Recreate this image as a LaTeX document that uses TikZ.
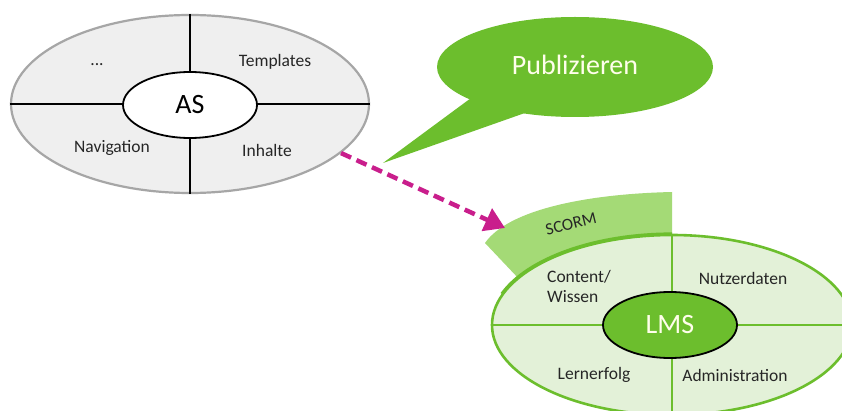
\documentclass[tikz,border=0pt]{standalone}
\usepackage{fontspec}
\setmainfont{Carlito}
\usetikzlibrary{shapes.geometric,arrows.meta}
\definecolor{asgray}{HTML}{EFEFEF}
\definecolor{asborder}{HTML}{A6A6A6}
\definecolor{pubgreen}{HTML}{6CBE2D}
\definecolor{lmspale}{HTML}{E3F1D8}
\definecolor{lmsline}{HTML}{6CBE2D}
\definecolor{scormgreen}{HTML}{A4DA76}
\definecolor{magent}{HTML}{C91E8C}
\definecolor{txt}{HTML}{262626}
\tikzset{
  outerell/.style={ellipse, inner sep=0pt, minimum width=358pt, minimum height=178pt},
  innerell/.style={ellipse, inner sep=0pt, minimum width=134pt, minimum height=66pt, draw=black, line width=1.8pt},
  lbl/.style={font=\fontsize{17.5}{20}\selectfont, text=txt},
  big/.style={font=\fontsize{28}{32}\selectfont},
}
\begin{document}
\begin{tikzpicture}[x=1pt,y=1pt]
\useasboundingbox (0,0) rectangle (842,410);
\clip (0,0) rectangle (842,410);
\fill[white] (0,0) rectangle (842,410);

% ---- AS ellipse
\node[outerell, fill=asgray, draw=asborder, line width=2.2pt] (as) at (190,306) {};
\draw[black, line width=1.8pt] (as.north) -- (as.south);
\draw[black, line width=1.8pt] (as.west) -- (as.east);
\node[innerell, fill=white, big, text=black] (asin) at (190,305) {AS};
\node[lbl] (dots) at (97,345) {...};
\node[lbl] (tmpl) at (275,348) {Templates};
\node[lbl] (nav) at (112,262) {Navigation};
\node[lbl] (inh) at (267,260) {Inhalte};

% ---- Publizieren callout
\coordinate (tailtip) at (383,247);
\node[ellipse, inner sep=0pt, minimum width=276pt, minimum height=100pt, fill=pubgreen] (pub) at (575,343) {};
\fill[pubgreen] (pub.197) -- (tailtip) -- (pub.222) -- (pub.center) -- cycle;
\node[big, text=white!92!yellow] (pubtxt) at (575,345) {Publizieren};

% ---- LMS ellipse
\node[outerell, minimum width=360pt, minimum height=180pt, fill=lmspale, draw=lmsline, line width=2.6pt] (lms) at (672,85) {};
% SCORM band
\fill[scormgreen] (672,218) -- (672,176.3) arc[start angle=90, end angle=148.5, x radius=181.3, y radius=91.3]
  -- (485,167) .. controls (508,200) and (585,216) .. (672,218) -- cycle;
\draw[lmsline, line width=2.6pt] (672,176.3) arc[start angle=90, end angle=160, x radius=181.3, y radius=91.3];
\draw[lmsline, line width=2.4pt] (lms.north) -- (lms.south);
\draw[lmsline, line width=2.4pt] (lms.west) -- (lms.east);
\node[innerell, fill=pubgreen, big, text=white!92!yellow] (lmsin) at (670,85) {LMS};
\node[rotate=14, text=txt, inner sep=1pt, font=\fontsize{17}{19}\selectfont] (scorm) at (571,186) {SCORM};
\node[lbl, align=left] (cont) at (579,124) {Content/\\Wissen};
\node[lbl] (nutz) at (743,132) {Nutzerdaten};
\node[lbl] (lern) at (594,35) {Lernerfolg};
\node[lbl] (adm) at (735,35) {Administration};

% ---- dashed arrow
\coordinate (scormtip) at (505,182);
\draw[magent, line width=4.5pt, dash pattern=on 11pt off 6pt,
  -{Triangle[length=20pt, width=24pt]}] (as.-18) -- (scormtip);
\end{tikzpicture}
\end{document}
